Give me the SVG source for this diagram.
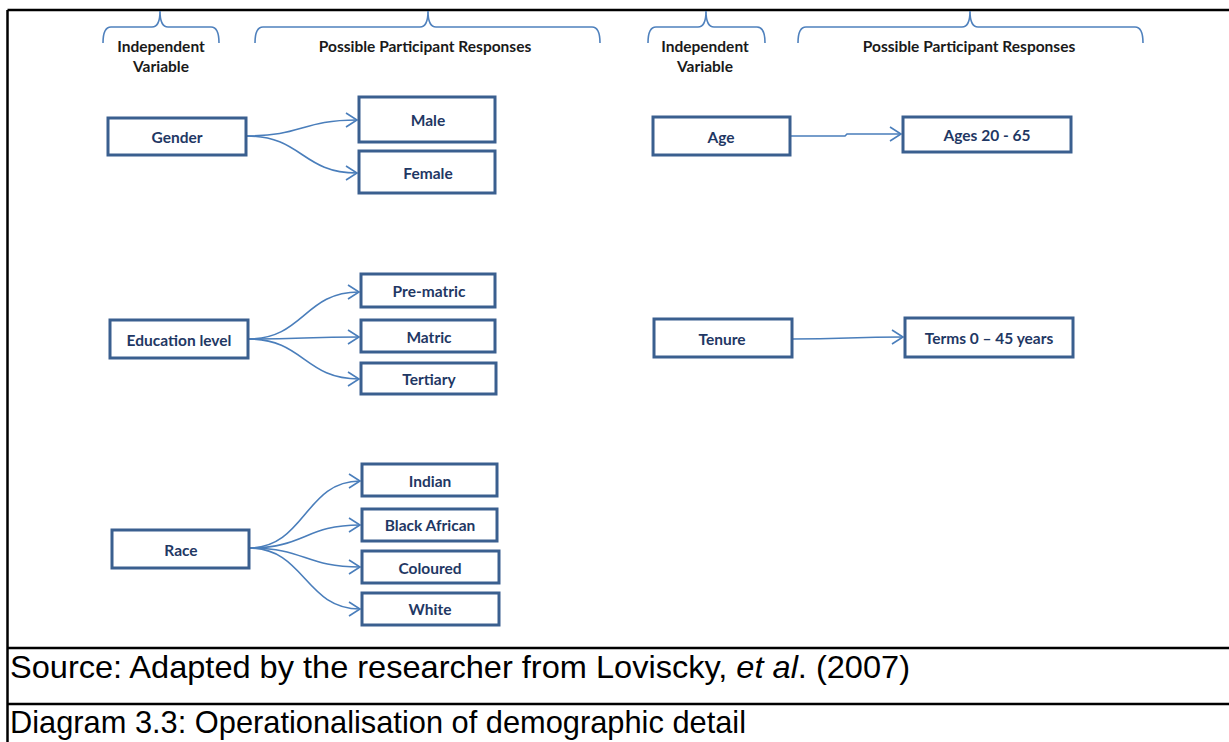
<svg xmlns="http://www.w3.org/2000/svg" width="1229" height="742" viewBox="0 0 1229 742">
  <style>
    .frame { stroke: #000; stroke-width: 2.5; fill: none; }
    .brace { stroke: #4F81BD; stroke-width: 1.6; fill: none; }
    .head { font-family: Lato, "Liberation Sans", sans-serif; font-weight: bold; font-size: 15.5px; fill: #1a1a1a; text-anchor: middle; }
    .box rect { fill: #fff; stroke: #3A5F8F; stroke-width: 3; }
    .box text { font-family: Lato, "Liberation Sans", sans-serif; font-weight: bold; font-size: 15.5px; fill: #1F3864; text-anchor: middle; dominant-baseline: central; }
    .conn path { stroke: #4A7EBB; stroke-width: 1.6; fill: none; marker-end: url(#open); }
    .note { font-family: "Liberation Sans", Arial, sans-serif; font-size: 31.5px; fill: #000; }
  </style>
  <defs>
    <marker id="open" markerUnits="userSpaceOnUse" markerWidth="14" markerHeight="16" refX="12" refY="8" orient="auto" viewBox="0 0 14 16">
      <path d="M1,1 L12,8 L1,15" fill="none" stroke="#4A7EBB" stroke-width="1.6"/>
    </marker>
  </defs>

  <rect width="1229" height="742" fill="#fff"/>

  <!-- table frame -->
  <g id="frame">
    <line class="frame" x1="7.5" y1="10" x2="1229" y2="10"/>
    <line class="frame" x1="7.5" y1="10" x2="7.5" y2="742"/>
    <line class="frame" x1="7.5" y1="648" x2="1229" y2="648"/>
    <line class="frame" x1="7.5" y1="704" x2="1229" y2="704"/>
  </g>

  <!-- column braces and headings -->
  <g id="headings">
    <path class="brace" d="M103,43 Q103,27 111,27 L152,27 Q160,27 160,11 Q160,27 168,27 L211,27 Q219,27 219,43"/>
    <path class="brace" d="M255,43 Q255,27 263,27 L420,27 Q428,27 428,11 Q428,27 436,27 L592,27 Q600,27 600,43"/>
    <path class="brace" d="M648,43 Q648,27 656,27 L698,27 Q706,27 706,11 Q706,27 714,27 L757,27 Q765,27 765,43"/>
    <path class="brace" d="M798,43 Q798,27 806,27 L962,27 Q970,27 970,11 Q970,27 978,27 L1135,27 Q1143,27 1143,43"/>
    <text class="head" x="161" y="52">Independent</text>
    <text class="head" x="161" y="72">Variable</text>
    <text class="head" x="425" y="52">Possible Participant Responses</text>
    <text class="head" x="705" y="52">Independent</text>
    <text class="head" x="705" y="72">Variable</text>
    <text class="head" x="969" y="52">Possible Participant Responses</text>
  </g>

  <!-- connectors -->
  <g id="connectors" class="conn">
    <path d="M247,136 C302,136 302,120 357,120"/>
    <path d="M247,136 C302,136 302,173 357,173"/>
    <path d="M248,339 C304,339 304,292 359,292"/>
    <path d="M248,339 C304,339 304,337 359,337"/>
    <path d="M248,339 C304,339 304,379 359,379"/>
    <path d="M249,548 C305,548 305,481 360,481"/>
    <path d="M249,548 C305,548 305,525 360,525"/>
    <path d="M249,548 C305,548 305,567 360,567"/>
    <path d="M249,548 C305,548 305,609 360,609"/>
    <path d="M790,136 L845,136 L847,134 L901,134"/>
    <path d="M792,339 C848,339 848,337 903,337"/>
  </g>

  <!-- independent variables -->
  <g id="gender" class="box"><rect x="108" y="118" width="138" height="37"/><text x="177" y="137">Gender</text></g>
  <g id="education" class="box"><rect x="110" y="320" width="138" height="38"/><text x="179" y="340">Education level</text></g>
  <g id="race" class="box"><rect x="112" y="530" width="137" height="38"/><text x="181" y="550">Race</text></g>
  <g id="age" class="box"><rect x="653" y="117" width="137" height="38"/><text x="721" y="137">Age</text></g>
  <g id="tenure" class="box"><rect x="654" y="319" width="138" height="38"/><text x="722" y="339">Tenure</text></g>

  <!-- responses -->
  <g id="male" class="box"><rect x="359" y="97" width="136" height="45"/><text x="428" y="120">Male</text></g>
  <g id="female" class="box"><rect x="359" y="151" width="136" height="42"/><text x="428" y="173">Female</text></g>
  <g id="prematric" class="box"><rect x="361" y="274" width="134" height="33"/><text x="429" y="291">Pre-matric</text></g>
  <g id="matric" class="box"><rect x="361" y="320" width="134" height="32"/><text x="429" y="337">Matric</text></g>
  <g id="tertiary" class="box"><rect x="361" y="363" width="135" height="31"/><text x="429" y="379">Tertiary</text></g>
  <g id="indian" class="box"><rect x="362" y="464" width="135" height="32"/><text x="430" y="481">Indian</text></g>
  <g id="blackafrican" class="box"><rect x="362" y="509" width="135" height="32"/><text x="430" y="525">Black African</text></g>
  <g id="coloured" class="box"><rect x="362" y="551" width="137" height="32"/><text x="430" y="568">Coloured</text></g>
  <g id="white" class="box"><rect x="362" y="593" width="137" height="32"/><text x="430" y="609">White</text></g>
  <g id="ages" class="box"><rect x="903" y="117" width="168" height="35"/><text x="987" y="135">Ages 20 - 65</text></g>
  <g id="terms" class="box"><rect x="905" y="318" width="168" height="39"/><text x="989" y="338">Terms 0 – 45 years</text></g>

  <!-- caption rows -->
  <text class="note" x="10" y="678" textLength="900" lengthAdjust="spacingAndGlyphs">Source: Adapted by the researcher from Loviscky, <tspan font-style="italic">et al</tspan>. (2007)</text>
  <text class="note" x="10" y="733" textLength="736" lengthAdjust="spacingAndGlyphs">Diagram 3.3: Operationalisation of demographic detail</text>
</svg>
